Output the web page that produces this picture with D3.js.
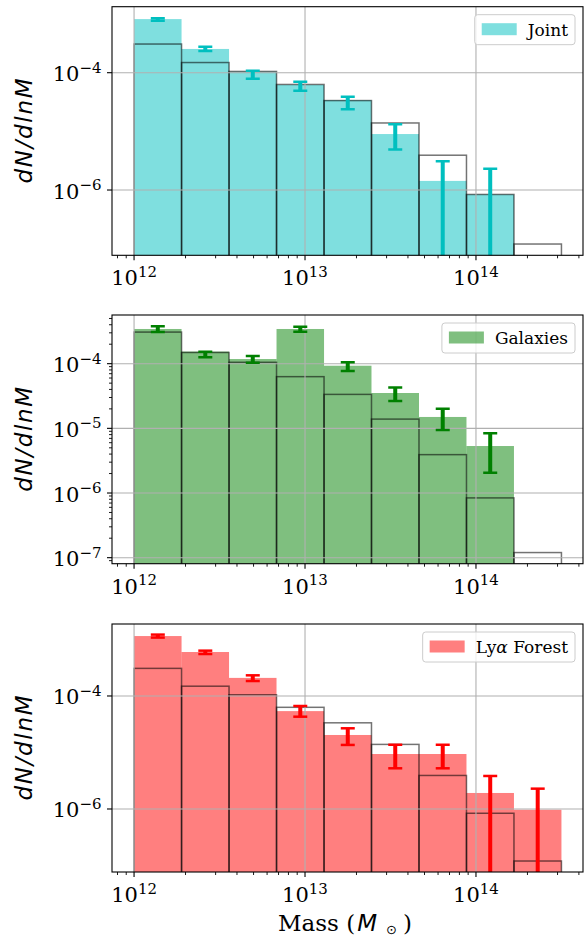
<!DOCTYPE html>
<html>
<head>
<meta charset="utf-8">
<script src="https://cdn.jsdelivr.net/npm/d3@7"></script>
<style>
  html, body { margin: 0; padding: 0; background: #fff; }
  svg { display: block; }
</style>
</head>
<body>
<svg id="chart" width="584" height="938"></svg>
<script>
// Halo mass bin edges (M_sun), log-spaced from 1e12 to 10^14.5
const binEdges = [1e12, 1.896e12, 3.594e12, 6.813e12, 1.292e13, 2.448e13, 4.642e13, 8.799e13, 1.668e14, 3.162e14];

// Reference halo mass function (open outlined bars, same in every panel)
const trueHMF = [3.08e-4, 1.49e-4, 1.05e-4, 6.3e-5, 3.35e-5, 1.39e-5, 3.92e-6, 8.4e-7, 1.2e-7];

// Joint reconstruction
const jointValues = [8.2e-4, 2.54e-4, 1.04e-4, 6.2e-5, 3.4e-5, 9.0e-6, 1.43e-6, 8.4e-7, 0];
const jointLower  = [7.69e-4, 2.35e-4, 7.9e-5, 4.9e-5, 2.38e-5, 4.9e-6, 0, 0, null];
const jointUpper  = [8.45e-4, 2.77e-4, 1.08e-4, 7.0e-5, 3.9e-5, 1.32e-5, 3.09e-6, 2.31e-6, null];

// Galaxies-only reconstruction
const galaxyValues = [3.44e-4, 1.54e-4, 1.18e-4, 3.44e-4, 9.3e-5, 3.52e-5, 1.5e-5, 5.33e-6, 0];
const galaxyLower  = [3.09e-4, 1.26e-4, 1.03e-4, 3.13e-4, 7.7e-5, 2.65e-5, 9.4e-6, 2.06e-6, null];
const galaxyUpper  = [3.78e-4, 1.53e-4, 1.31e-4, 3.73e-4, 1.05e-4, 4.3e-5, 2.01e-5, 8.4e-6, null];

// Lyman-alpha forest reconstruction
const lyaValues = [1.15e-3, 6.0e-4, 2.09e-4, 5.4e-5, 2.04e-5, 9.4e-6, 9.4e-6, 1.92e-6, 9.7e-7];
const lyaLower  = [1.08e-3, 5.53e-4, 1.84e-4, 4.3e-5, 1.36e-5, 5.25e-6, 5.25e-6, 0, 0];
const lyaUpper  = [1.22e-3, 6.34e-4, 2.32e-4, 6.65e-5, 2.68e-5, 1.37e-5, 1.37e-5, 3.84e-6, 2.29e-6];

// Axis ranges and ticks
const xDomain = [7.43e11, 4.227e14];
const xTickExps = [12, 13, 14];
const yDomainJoint = [7.71e-8, 1.334e-3];
const yDomainGalaxy = [8.07e-8, 5.66e-4];
const yDomainLya = [7.67e-8, 1.879e-3];
const yTickExpsSparse = [-4, -6];
const yTickExpsDense = [-4, -5, -6, -7];

const serif = "'DejaVu Serif', serif";
const sans = "'DejaVu Sans', sans-serif";

const panels = [
  { label: "Joint", color: "#00bfbf", values: jointValues, lower: jointLower, upper: jointUpper,
    yDomain: yDomainJoint, yTicks: yTickExpsSparse, minorY: false, top: 6.7, bottom: 255.3 },
  { label: "Galaxies", color: "#008000", values: galaxyValues, lower: galaxyLower, upper: galaxyUpper,
    yDomain: yDomainGalaxy, yTicks: yTickExpsDense, minorY: true, top: 315, bottom: 563.7 },
  { label: "Lyα Forest", color: "#ff0000", values: lyaValues, lower: lyaLower, upper: lyaUpper,
    yDomain: yDomainLya, yTicks: yTickExpsSparse, minorY: false, top: 624, bottom: 872 }
];

const left = 112, right = 583;
const svg = d3.select("#chart");
const x = d3.scaleLog().domain(xDomain).range([left, right]);

function minorTicks(domain) {
  const lo = Math.floor(Math.log10(domain[0])), hi = Math.ceil(Math.log10(domain[1]));
  const out = [];
  for (let e = lo; e <= hi; e++) {
    for (let m = 2; m <= 9; m++) {
      const v = m * Math.pow(10, e);
      if (v >= domain[0] && v <= domain[1]) out.push(v);
    }
  }
  return out;
}

// "10^exp" label with a raised exponent
function powerLabel(g, px, py, exp, anchor) {
  const t = g.append("text")
    .attr("x", px).attr("y", py)
    .attr("text-anchor", anchor)
    .attr("font-family", serif)
    .attr("font-size", 21)
    .attr("fill", "#000");
  t.append("tspan").text("10");
  t.append("tspan")
    .attr("font-size", 15)
    .attr("dy", -8.5)
    .text(exp < 0 ? "\u2212" + Math.abs(exp) : String(exp));
  return t;
}

panels.forEach((p, idx) => {
  const y = d3.scaleLog().domain(p.yDomain).range([p.bottom, p.top]);
  const g = svg.append("g");
  const clipId = "clip" + idx;
  svg.append("defs").append("clipPath").attr("id", clipId)
    .append("rect").attr("x", left).attr("y", p.top)
    .attr("width", right - left).attr("height", p.bottom - p.top);

  const plot = g.append("g").attr("clip-path", `url(#${clipId})`);
  const bins = d3.range(binEdges.length - 1);

  // filled reconstruction bars
  plot.selectAll("rect.fill").data(bins.filter(i => p.values[i] > 0)).join("rect")
    .attr("class", "fill")
    .attr("x", i => x(binEdges[i]))
    .attr("width", i => x(binEdges[i + 1]) - x(binEdges[i]))
    .attr("y", i => y(p.values[i]))
    .attr("height", i => p.bottom + 10 - y(p.values[i]))
    .attr("fill", p.color).attr("fill-opacity", 0.5);

  // outlined reference bars
  plot.selectAll("rect.ref").data(bins).join("rect")
    .attr("class", "ref")
    .attr("x", i => x(binEdges[i]))
    .attr("width", i => x(binEdges[i + 1]) - x(binEdges[i]))
    .attr("y", i => y(trueHMF[i]))
    .attr("height", i => p.bottom + 10 - y(trueHMF[i]))
    .attr("fill", "none").attr("stroke", "#000")
    .attr("stroke-opacity", 0.55).attr("stroke-width", 1.5);

  // grid
  const gridColor = "#b0b0b0";
  plot.selectAll("line.gx").data(xTickExps).join("line")
    .attr("x1", e => x(Math.pow(10, e))).attr("x2", e => x(Math.pow(10, e)))
    .attr("y1", p.top).attr("y2", p.bottom)
    .attr("stroke", gridColor).attr("stroke-width", 1.1);
  plot.selectAll("line.gy").data(p.yTicks).join("line")
    .attr("x1", left).attr("x2", right)
    .attr("y1", e => y(Math.pow(10, e))).attr("y2", e => y(Math.pow(10, e)))
    .attr("stroke", gridColor).attr("stroke-width", 1.1);

  // error bars at geometric bin centres
  const errBins = bins.filter(i => p.upper[i] != null);
  const cx = i => x(Math.sqrt(binEdges[i] * binEdges[i + 1]));
  const yLow = i => (p.lower[i] > 0 ? y(p.lower[i]) : p.bottom + 20);
  const eb = plot.selectAll("g.err").data(errBins).join("g").attr("class", "err");
  eb.append("line")
    .attr("x1", cx).attr("x2", cx)
    .attr("y1", i => y(p.upper[i])).attr("y2", yLow)
    .attr("stroke", p.color).attr("stroke-width", 4);
  eb.append("line")
    .attr("x1", i => cx(i) - 7).attr("x2", i => cx(i) + 7)
    .attr("y1", i => y(p.upper[i])).attr("y2", i => y(p.upper[i]))
    .attr("stroke", p.color).attr("stroke-width", 2.5);
  eb.filter(i => p.lower[i] > 0).append("line")
    .attr("x1", i => cx(i) - 7).attr("x2", i => cx(i) + 7)
    .attr("y1", yLow).attr("y2", yLow)
    .attr("stroke", p.color).attr("stroke-width", 2.5);

  // spines
  g.append("rect").attr("x", left).attr("y", p.top)
    .attr("width", right - left).attr("height", p.bottom - p.top)
    .attr("fill", "none").attr("stroke", "#000").attr("stroke-width", 1.1);

  // x ticks
  const ticks = g.append("g").attr("stroke", "#000").attr("stroke-width", 1.1);
  xTickExps.forEach(e => {
    const px = x(Math.pow(10, e));
    ticks.append("line").attr("x1", px).attr("x2", px).attr("y1", p.bottom).attr("y2", p.bottom + 5);
    powerLabel(g, px, p.bottom + 30, e, "middle");
  });
  minorTicks(xDomain).forEach(v => {
    const px = x(v);
    ticks.append("line").attr("x1", px).attr("x2", px).attr("y1", p.bottom).attr("y2", p.bottom + 3)
      .attr("stroke-width", 0.9);
  });

  // y ticks
  p.yTicks.forEach(e => {
    const py = y(Math.pow(10, e));
    ticks.append("line").attr("x1", left - 5).attr("x2", left).attr("y1", py).attr("y2", py);
    powerLabel(g, left - 10.5, py + 8.5, e, "end");
  });
  if (p.minorY) {
    minorTicks(p.yDomain).forEach(v => {
      const py = y(v);
      ticks.append("line").attr("x1", left - 3).attr("x2", left).attr("y1", py).attr("y2", py)
        .attr("stroke-width", 0.9);
    });
  }

  // y label
  const cy = (p.top + p.bottom) / 2;
  g.append("text")
    .attr("transform", `translate(32,${cy}) rotate(-90)`)
    .attr("text-anchor", "middle")
    .attr("font-family", sans).attr("font-style", "italic")
    .attr("font-size", 23)
    .attr("textLength", 105).attr("lengthAdjust", "spacing")
    .text("dN/dlnM");

  // legend
  const lg = g.append("g");
  const box = lg.append("rect");
  const ly = p.top + 8, lh = 30;
  const txt = lg.append("text")
    .attr("y", ly + lh / 2 + 6)
    .attr("font-family", serif).attr("font-size", 17).attr("fill", "#000");
  if (p.label === "Lyα Forest") {
    txt.append("tspan").text("Ly");
    txt.append("tspan").attr("font-style", "italic").text("α");
    txt.append("tspan").text(" Forest");
  } else {
    txt.text(p.label);
  }
  const tw = txt.node().getComputedTextLength();
  const lRight = right - 8;
  const lLeft = lRight - (7 + 35 + 11 + tw + 7);
  box.attr("x", lLeft).attr("y", ly).attr("width", lRight - lLeft).attr("height", lh)
    .attr("rx", 3).attr("fill", "#fff").attr("fill-opacity", 0.8)
    .attr("stroke", "#cccccc").attr("stroke-width", 1);
  lg.append("rect").attr("x", lLeft + 7).attr("y", ly + 8.5).attr("width", 35).attr("height", 12)
    .attr("fill", p.color).attr("fill-opacity", 0.5);
  txt.attr("x", lLeft + 7 + 35 + 11);
});

// x-axis title on the bottom panel
const xl = svg.append("text")
  .attr("x", 278).attr("y", 931)
  .attr("text-anchor", "start")
  .attr("font-family", serif).attr("font-size", 23).attr("fill", "#000");
xl.append("tspan").text("Mass (");
xl.append("tspan").attr("dx", 2).attr("font-family", sans).attr("font-style", "italic").text("M");
xl.append("tspan").attr("font-family", sans).attr("font-size", 13).attr("dy", 2.5).attr("dx", 9).text("\u2299");
xl.append("tspan").attr("dy", -2.5).attr("dx", 6).text(")");
</script>
</body>
</html>
